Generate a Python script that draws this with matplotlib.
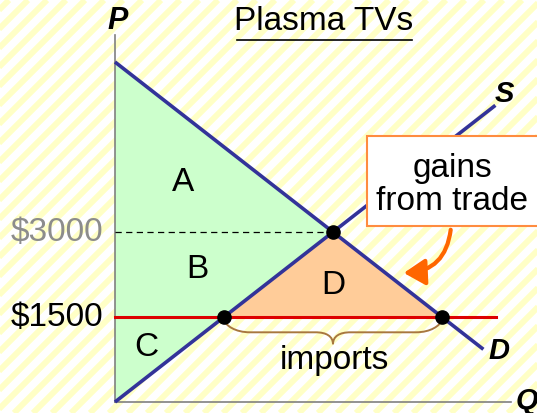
import numpy as np
import matplotlib.pyplot as plt
from matplotlib.patches import Rectangle, FancyArrowPatch, PathPatch
from matplotlib.path import Path

plt.rcParams['font.family'] = ['Liberation Sans', 'DejaVu Sans']

W, H = 537, 413

# market data (price in $, quantity in arbitrary units)
p_eq = 3000
q_eq = 20
p_world = 1500
q_supply_world = 10
q_demand_world = 30
demand_q = [0, 33.8]
demand_p = [6000, 930]
supply_q = [0, 34.9]
supply_p = [0, 5235]
p_axis_top = 6480
q_axis_end = 36.3
q_world_line_end = 35.0

price_labels = ["$3000", "$1500"]
area_labels = ["A", "B", "C", "D"]


def px(x, y):
    # pixel position -> axes fraction, for annotations
    return x / W, 1 - y / H


fig = plt.figure(figsize=(W / 100, H / 100), dpi=100)

# striped background
bg = fig.add_axes([0, 0, 1, 1])
bg.set_xlim(0, W)
bg.set_ylim(H, 0)
bg.axis('off')
for c in np.arange(-10, W + H + 20, 19):
    bg.plot([c, c - H], [0, H], color='#FFFFC6', lw=4.3, solid_capstyle='butt')

ax = fig.add_axes([0, 0, 1, 1])
ax.set_xlim(-10.55, 38.72)
ax.set_ylim(-194, 7094)
ax.axis('off')

navy = '#333399'

# surplus areas
ax.fill([0, 0, q_eq], [supply_p[0], demand_p[0], p_eq], color='#CCFFCC', lw=0, zorder=1)
ax.fill([q_supply_world, q_eq, q_demand_world], [p_world, p_eq, p_world],
        color='#FFCC99', lw=0, zorder=1)

# axes
ax.plot([0, 0], [0, p_axis_top], color='#808080', lw=1.2, zorder=2)
ax.plot([0, q_axis_end], [0, 0], color='#808080', lw=1.2, zorder=2)

ax.plot([0, q_eq], [p_eq, p_eq], color='black', lw=0.9, ls=(0, (5, 3.5)), zorder=2)
ax.plot([0, q_world_line_end], [p_world, p_world], color='#DD0000', lw=2.2, zorder=3)
ax.plot(demand_q, demand_p, color=navy, lw=2.6, solid_capstyle='butt', zorder=4)
ax.plot(supply_q, supply_p, color=navy, lw=2.6, solid_capstyle='butt', zorder=4)
ax.plot([q_supply_world, q_eq, q_demand_world], [p_world, p_eq, p_world], 'o',
        color='black', ms=9.5, zorder=5)

# brace under imports
mid = (q_supply_world + q_demand_world) / 2
y1, y2, y3 = p_world - 60, p_world - 270, p_world - 480
verts = [(q_supply_world, y1),
         (q_supply_world + 0.2, y2 + 120), (q_supply_world + 1.0, y2), (q_supply_world + 2.4, y2),
         (mid - 1.6, y2),
         (mid - 0.6, y2), (mid, y2 - 70), (mid, y3),
         (mid, y2 - 70), (mid + 0.6, y2), (mid + 1.6, y2),
         (q_demand_world - 2.4, y2),
         (q_demand_world - 1.0, y2), (q_demand_world - 0.2, y2 + 120), (q_demand_world, y1)]
codes = [Path.MOVETO, Path.CURVE4, Path.CURVE4, Path.CURVE4, Path.LINETO,
         Path.CURVE4, Path.CURVE4, Path.CURVE4, Path.CURVE4, Path.CURVE4, Path.CURVE4,
         Path.LINETO, Path.CURVE4, Path.CURVE4, Path.CURVE4]
ax.add_patch(PathPatch(Path(verts, codes), fc='none', ec='#A8773F', lw=1.4, zorder=3))

# text
fs = 24
ax.text(*px(324, 22), "Plasma TVs", transform=ax.transAxes, ha='center', va='center', fontsize=fs)
ax.plot([237 / W, 412 / W], [1 - 40 / H, 1 - 40 / H], transform=ax.transAxes,
        color='black', lw=1.2)
ax.text(*px(118, 21), "P", transform=ax.transAxes, ha='center', va='center',
        fontsize=22, fontweight='bold', fontstyle='italic')
ax.text(*px(504, 94), "S", transform=ax.transAxes, ha='center', va='center',
        fontsize=21, fontweight='bold', fontstyle='italic')
ax.text(*px(499, 351), "D", transform=ax.transAxes, ha='center', va='center',
        fontsize=21, fontweight='bold', fontstyle='italic')
ax.text(*px(527, 401), "Q", transform=ax.transAxes, ha='center', va='center',
        fontsize=21, fontweight='bold', fontstyle='italic')

ax.text(-1.1, p_eq, price_labels[0], ha='right', va='center', fontsize=fs, color='#8C8C8C')
ax.text(-1.1, p_world, price_labels[1], ha='right', va='center', fontsize=fs, color='black')

for lab, (x, y) in zip(area_labels, [(183, 183), (197, 270), (146, 347), (333, 285)]):
    ax.text(*px(x, y), lab, transform=ax.transAxes, ha='center', va='center', fontsize=fs)

ax.text(*px(334, 360), "imports", transform=ax.transAxes, ha='center', va='center', fontsize=fs)

# gains from trade box + arrow
ax.add_patch(Rectangle(px(367, 226), 175 / W, 90 / H, transform=ax.transAxes,
                       fc='white', ec='#FF8C40', lw=1.5, zorder=6, clip_on=False))
ax.text(*px(452, 185), "gains\nfrom trade", transform=ax.transAxes, ha='center', va='center',
        fontsize=fs, linespacing=1.05, zorder=7)
ax.add_patch(FancyArrowPatch(px(451, 227), px(401, 273), transform=ax.transAxes,
                             connectionstyle='arc3,rad=-0.45',
                             arrowstyle='-|>,head_length=0.65,head_width=0.4',
                             mutation_scale=20, color='#FF6600', lw=3, zorder=7))

fig.savefig('out.png', dpi=100)
